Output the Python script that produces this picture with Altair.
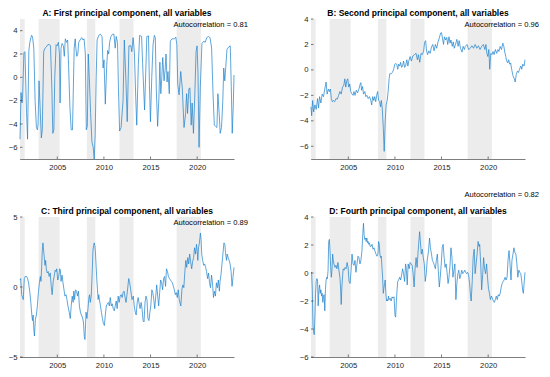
import altair as alt
import pandas as pd

# ---------------- data (decimal year, value) ----------------
pc1 = [(2001.00,-5.3),(2001.11,-1.3),(2001.21,-2.2),(2001.28,-1.6),(2001.42,2.1),(2001.53,2.2),(2001.70,-3.0),(2001.81,-5.3),
       (2001.95,2.3),(2002.06,3.0),(2002.23,3.6),(2002.34,3.5),(2002.48,2.5),(2002.62,-2.0),(2002.76,-4.3),(2002.87,-4.5),
       (2002.94,-4.0),(2003.04,-0.3),(2003.15,-2.5),(2003.29,-5.2),(2003.39,-4.5),(2003.54,2.2),(2003.68,2.5),(2003.82,2.6),
       (2003.99,2.8),(2004.17,2.8),(2004.27,2.7),(2004.42,-1.0),(2004.52,-4.8),(2004.63,-4.5),(2004.73,0.0),(2004.87,2.8),
       (2004.98,2.7),(2005.12,3.0),(2005.23,2.0),(2005.30,-2.2),(2005.40,2.5),(2005.51,2.9),(2005.65,2.7),(2005.75,1.8),
       (2005.86,3.3),(2006.00,3.0),(2006.11,3.2),(2006.21,1.0),(2006.35,-2.5),(2006.49,-4.5),(2006.63,-4.5),(2006.81,2.5),
       (2006.92,3.3),(2006.99,2.5),(2007.09,1.8),(2007.20,2.0),(2007.30,3.0),(2007.44,3.2),(2007.62,3.4),(2007.76,3.2),
       (2007.87,3.3),(2008.01,2.0),(2008.11,-4.5),(2008.22,-4.2),(2008.32,2.0),(2008.43,0.0),(2008.57,-3.0),(2008.71,-5.5),
       (2008.85,-6.0),(2008.96,-7.0),(2009.06,-5.0),(2009.17,0.0),(2009.27,3.2),(2009.45,3.6),(2009.63,3.7),(2009.80,3.5),
       (2009.91,0.8),(2010.01,1.5),(2010.15,-2.3),(2010.30,1.0),(2010.40,2.3),(2010.51,2.0),(2010.61,3.0),(2010.75,3.5),
       (2010.93,3.7),(2011.07,3.7),(2011.21,2.5),(2011.32,3.5),(2011.46,3.0),(2011.56,-1.0),(2011.68,-4.6),(2011.84,-4.3),
       (2012.05,-2.0),(2012.19,3.2),(2012.36,-0.3),(2012.50,-3.8),(2012.68,2.7),(2012.89,2.7),(2012.99,2.2),(2013.13,3.4),
       (2013.27,2.1),(2013.41,-1.7),(2013.52,-4.1),(2013.69,1.1),(2013.83,3.6),(2014.04,3.5),(2014.18,0.6),(2014.36,-2.8),
       (2014.50,0.8),(2014.60,3.5),(2014.78,3.55),(2014.88,-0.6),(2014.99,-3.8),(2015.13,0.0),(2015.27,2.8),(2015.41,3.6),
       (2015.51,3.4),(2015.62,-1.1),(2015.76,-4.2),(2015.90,-1.7),(2016.00,1.3),(2016.10,-1.4),(2016.21,0.0),(2016.31,1.7),
       (2016.45,-0.3),(2016.56,0.6),(2016.66,2.0),(2016.77,-0.4),(2016.87,0.5),(2017.01,-1.4),(2017.12,3.1),(2017.29,3.3),
       (2017.43,3.3),(2017.57,3.3),(2017.71,3.45),(2017.82,2.8),(2017.92,-0.6),(2018.06,-1.5),(2018.24,0.5),(2018.41,-1.0),
       (2018.59,-4.3),(2018.76,-3.1),(2018.87,-1.4),(2018.97,-3.1),(2019.11,-1.0),(2019.22,-0.9),(2019.36,-4.1),(2019.46,-2.2),
       (2019.60,-4.8),(2019.74,-1.7),(2019.88,2.2),(2019.99,2.7),(2020.09,0.3),(2020.20,-6.0),(2020.34,-0.8),(2020.51,2.9),
       (2020.72,3.1),(2020.86,3.0),(2021.03,3.4),(2021.21,3.5),(2021.38,3.4),(2021.55,2.5),(2021.70,-1.4),(2021.84,-4.1),
       (2021.98,-4.2),(2022.12,-4.3),(2022.22,-1.4),(2022.36,-3.1),(2022.47,-4.8),(2022.61,-4.3),(2022.75,-2.0),(2022.85,0.8),
       (2022.96,-0.3),(2023.06,0.8),(2023.20,2.4),(2023.38,2.6),(2023.55,2.7),(2023.66,-0.8),(2023.76,-4.8),(2023.87,-2.5),
       (2023.95,0.2)]

pc2 = [(2001.00,-2.9),(2001.07,-3.6),(2001.18,-2.4),(2001.28,-3.3),(2001.42,-2.75),(2001.56,-3.1),(2001.70,-2.25),(2001.81,-3.0),
       (2001.92,-2.1),(2002.06,-2.6),(2002.20,-1.9),(2002.34,-2.1),(2002.48,-1.5),(2002.62,-0.95),(2002.73,-1.9),(2002.87,-1.5),
       (2002.97,-1.7),(2003.08,-1.5),(2003.18,-2.25),(2003.29,-2.5),(2003.39,-2.4),(2003.54,-2.5),(2003.68,-2.25),(2003.82,-2.3),
       (2003.96,-2.0),(2004.10,-1.7),(2004.24,-1.9),(2004.38,-1.35),(2004.52,-1.2),(2004.63,-0.7),(2004.73,-1.35),(2004.84,-0.85),
       (2004.94,-0.7),(2005.05,-1.35),(2005.15,-1.1),(2005.26,-1.7),(2005.40,-1.9),(2005.51,-2.0),(2005.61,-1.7),(2005.72,-2.0),
       (2005.86,-1.6),(2006.00,-1.8),(2006.14,-1.5),(2006.28,-1.1),(2006.35,-1.0),(2006.42,-1.6),(2006.53,-1.3),(2006.63,-1.9),
       (2006.77,-1.7),(2006.88,-2.1),(2006.99,-2.0),(2007.13,-2.25),(2007.27,-2.1),(2007.41,-2.4),(2007.51,-2.75),(2007.62,-2.1),
       (2007.73,-2.4),(2007.83,-2.1),(2007.94,-2.5),(2008.04,-2.0),(2008.15,-1.7),(2008.25,-2.4),(2008.36,-2.5),(2008.46,-2.9),
       (2008.54,-2.4),(2008.64,-3.0),(2008.75,-4.5),(2008.85,-6.4),(2008.96,-4.0),(2009.06,-2.75),(2009.17,-2.4),(2009.27,-1.7),
       (2009.38,-0.7),(2009.45,-0.3),(2009.59,-0.3),(2009.73,-0.2),(2009.87,0.05),(2009.98,0.45),(2010.08,0.5),(2010.19,0.45),
       (2010.30,0.05),(2010.40,0.45),(2010.51,0.3),(2010.61,0.6),(2010.72,0.2),(2010.82,0.3),(2010.93,0.7),(2011.04,0.2),
       (2011.14,0.3),(2011.28,0.8),(2011.39,0.3),(2011.49,0.7),(2011.63,1.05),(2011.77,0.7),(2011.92,1.1),(2012.09,1.2),
       (2012.27,1.3),(2012.41,0.8),(2012.52,1.2),(2012.66,0.6),(2012.80,1.3),(2012.94,1.2),(2013.08,1.5),(2013.18,2.15),
       (2013.29,2.3),(2013.39,1.5),(2013.50,1.2),(2013.64,1.5),(2013.78,1.3),(2013.92,1.8),(2014.06,2.0),(2014.20,1.5),
       (2014.34,2.0),(2014.48,1.7),(2014.62,2.2),(2014.76,2.5),(2014.90,2.9),(2015.00,2.93),(2015.10,2.5),(2015.21,2.0),
       (2015.31,2.6),(2015.45,2.35),(2015.56,2.55),(2015.66,2.0),(2015.80,2.6),(2015.91,2.1),(2016.01,2.35),(2016.15,1.85),
       (2016.26,2.2),(2016.36,1.7),(2016.50,2.0),(2016.64,2.4),(2016.78,1.85),(2016.89,2.3),(2017.03,1.7),(2017.20,1.4),
       (2017.31,1.85),(2017.45,1.6),(2017.55,1.85),(2017.73,2.0),(2017.90,1.6),(2018.08,1.7),(2018.25,1.9),(2018.43,1.7),
       (2018.60,2.0),(2018.78,1.7),(2018.95,1.9),(2019.13,1.6),(2019.30,1.85),(2019.48,2.0),(2019.65,1.6),(2019.76,2.0),
       (2019.86,1.3),(2019.97,1.05),(2020.07,1.6),(2020.17,0.05),(2020.28,1.3),(2020.42,1.2),(2020.52,1.45),(2020.63,1.2),
       (2020.77,1.6),(2020.91,1.3),(2021.05,1.6),(2021.15,1.45),(2021.29,1.85),(2021.43,1.6),(2021.57,2.1),(2021.68,1.85),
       (2021.78,1.4),(2021.89,1.05),(2021.99,0.7),(2022.10,0.55),(2022.20,0.8),(2022.31,0.45),(2022.41,0.55),(2022.52,0.05),
       (2022.66,-0.45),(2022.80,-0.7),(2022.90,-0.95),(2023.01,-0.35),(2023.15,-0.1),(2023.25,-0.2),(2023.36,0.05),(2023.50,0.3),
       (2023.60,0.05),(2023.71,0.45),(2023.85,0.3),(2023.95,0.8)]

pc3 = [(2001.00,0.5),(2001.07,0.6),(2001.18,-0.55),(2001.35,-0.9),(2001.46,0.6),(2001.56,0.75),(2001.70,0.75),(2001.81,0.6),
       (2001.92,0.3),(2002.06,-0.4),(2002.16,-1.1),(2002.27,-2.0),(2002.34,-2.4),(2002.41,-2.0),(2002.48,-3.0),(2002.55,-3.5),
       (2002.65,-2.3),(2002.76,-2.0),(2002.87,-1.3),(2002.97,-0.4),(2003.08,0.3),(2003.18,0.75),(2003.25,0.4),(2003.32,1.4),
       (2003.39,2.6),(2003.46,3.15),(2003.57,2.35),(2003.68,1.55),(2003.75,1.9),(2003.82,1.3),(2003.92,1.0),(2004.03,1.1),
       (2004.13,0.75),(2004.24,1.0),(2004.35,0.05),(2004.45,-0.55),(2004.56,0.4),(2004.66,0.75),(2004.77,1.2),(2004.87,1.1),
       (2004.94,1.3),(2005.05,0.5),(2005.15,0.75),(2005.26,1.3),(2005.33,1.2),(2005.40,0.4),(2005.51,0.85),(2005.61,0.3),
       (2005.72,-0.2),(2005.82,-0.65),(2005.93,-0.55),(2006.04,-0.9),(2006.14,-1.35),(2006.28,-1.8),(2006.39,-2.25),(2006.49,-1.35),
       (2006.60,-0.65),(2006.70,-1.1),(2006.77,-0.3),(2006.85,-0.9),(2006.95,-0.2),(2007.06,-0.3),(2007.16,-0.65),(2007.27,-0.3),
       (2007.37,-1.35),(2007.48,-1.8),(2007.58,-2.0),(2007.69,-2.15),(2007.80,-2.5),(2007.90,-3.55),(2007.97,-3.75),(2008.08,-1.8),
       (2008.18,-2.25),(2008.29,-1.55),(2008.39,-0.75),(2008.46,-0.55),(2008.54,-1.1),(2008.64,-0.65),(2008.75,1.2),(2008.82,2.6),
       (2008.89,2.95),(2008.96,3.15),(2009.03,2.95),(2009.10,2.35),(2009.17,1.4),(2009.24,0.5),(2009.31,-0.2),(2009.38,-0.9),
       (2009.45,-0.55),(2009.52,-0.9),(2009.63,-1.35),(2009.73,-1.8),(2009.84,-2.25),(2009.94,-2.6),(2010.05,-2.75),(2010.15,-2.0),
       (2010.26,-1.35),(2010.37,-1.2),(2010.47,-1.1),(2010.58,-1.35),(2010.68,-0.75),(2010.79,-1.35),(2010.89,-1.2),(2011.00,-1.55),
       (2011.11,-1.7),(2011.21,-1.35),(2011.32,-1.0),(2011.42,-1.55),(2011.53,-0.65),(2011.63,-1.1),(2011.74,-0.65),(2011.85,-0.55),
       (2011.95,-0.75),(2012.06,-0.4),(2012.16,-0.3),(2012.27,-0.75),(2012.37,-1.1),(2012.48,-0.5),(2012.66,0.6),(2012.76,0.3),
       (2012.87,-0.2),(2013.01,-0.9),(2013.15,-0.65),(2013.25,-1.35),(2013.36,-1.8),(2013.46,-2.0),(2013.57,-1.1),(2013.67,-0.75),
       (2013.78,-1.2),(2013.88,-1.55),(2013.99,-1.1),(2014.09,-1.55),(2014.20,-2.4),(2014.30,-2.5),(2014.41,-1.1),(2014.51,-0.65),
       (2014.62,-0.9),(2014.72,-2.25),(2014.83,-2.4),(2014.93,-1.8),(2015.03,-1.35),(2015.14,-0.2),(2015.24,-0.4),(2015.35,-0.9),
       (2015.45,-1.55),(2015.56,-0.65),(2015.66,0.15),(2015.77,-0.65),(2015.87,-1.35),(2015.98,-0.4),(2016.08,0.5),(2016.19,0.3),
       (2016.29,-0.2),(2016.40,0.6),(2016.50,0.75),(2016.61,0.05),(2016.71,1.3),(2016.82,1.1),(2016.92,0.75),(2017.03,0.6),
       (2017.13,0.5),(2017.24,0.4),(2017.34,0.3),(2017.45,0.05),(2017.55,-0.2),(2017.66,-0.55),(2017.76,-0.4),(2017.87,-0.75),
       (2017.97,-0.2),(2018.08,-0.9),(2018.18,-1.2),(2018.25,-1.35),(2018.36,-0.2),(2018.46,0.15),(2018.57,-0.05),(2018.67,1.0),
       (2018.78,1.9),(2018.88,1.4),(2018.99,2.1),(2019.09,1.65),(2019.20,2.35),(2019.30,1.8),(2019.41,1.3),(2019.51,1.8),
       (2019.62,2.1),(2019.72,2.8),(2019.83,2.35),(2019.93,3.05),(2020.00,2.6),(2020.07,1.9),(2020.14,2.8),(2020.24,3.15),
       (2020.35,3.85),(2020.42,3.4),(2020.49,2.35),(2020.59,1.9),(2020.70,1.55),(2020.80,1.65),(2020.91,1.4),(2021.01,1.1),
       (2021.12,0.6),(2021.22,1.0),(2021.33,0.3),(2021.43,-0.05),(2021.54,0.85),(2021.64,0.3),(2021.75,-0.75),(2021.85,-0.3),
       (2021.96,-0.65),(2022.06,0.3),(2022.17,-0.05),(2022.27,0.5),(2022.38,-0.3),(2022.45,0.4),(2022.55,0.85),(2022.66,1.65),
       (2022.76,2.35),(2022.87,3.15),(2022.97,3.05),(2023.04,2.45),(2023.15,1.9),(2023.22,2.35),(2023.32,2.1),(2023.43,1.9),
       (2023.53,1.65),(2023.64,1.1),(2023.74,0.05),(2023.85,0.75),(2023.95,1.4)]

pc4 = [(2001.00,0.0),(2001.07,0.05),(2001.14,-1.2),(2001.21,-3.75),(2001.28,-4.2),(2001.35,-4.4),(2001.42,-3.05),(2001.49,-1.45),
       (2001.56,-0.6),(2001.63,-0.4),(2001.70,-0.5),(2001.77,-2.35),(2001.85,-1.2),(2001.92,-0.85),(2001.99,-1.45),(2002.06,-1.2),
       (2002.13,-1.65),(2002.20,-1.45),(2002.27,-2.1),(2002.34,-1.65),(2002.41,-1.55),(2002.48,-2.7),(2002.55,-1.2),(2002.62,-0.5),
       (2002.69,-0.3),(2002.76,-0.4),(2002.83,0.2),(2002.90,2.25),(2002.97,2.4),(2003.04,1.55),(2003.11,0.4),(2003.18,-0.3),
       (2003.25,0.2),(2003.32,1.35),(2003.39,0.9),(2003.46,0.65),(2003.57,0.4),(2003.68,0.55),(2003.78,0.3),(2003.89,0.75),
       (2003.99,0.2),(2004.10,-0.3),(2004.17,-1.0),(2004.24,-2.25),(2004.31,-1.0),(2004.38,-0.3),(2004.45,0.3),(2004.56,0.2),
       (2004.66,0.4),(2004.77,0.3),(2004.87,0.75),(2004.98,0.4),(2005.08,-0.6),(2005.19,-0.75),(2005.30,0.2),(2005.40,1.35),
       (2005.51,0.65),(2005.61,0.55),(2005.72,0.9),(2005.82,0.05),(2005.93,0.65),(2006.04,1.2),(2006.14,1.1),(2006.25,0.65),
       (2006.35,0.9),(2006.46,1.55),(2006.56,2.85),(2006.63,3.55),(2006.70,2.7),(2006.77,2.4),(2006.85,2.5),(2006.92,2.25),
       (2006.99,2.5),(2007.06,2.15),(2007.13,2.25),(2007.20,2.05),(2007.27,2.15),(2007.34,1.9),(2007.44,1.9),(2007.55,2.05),
       (2007.65,1.7),(2007.76,1.8),(2007.87,1.55),(2007.97,1.35),(2008.08,1.2),(2008.18,1.35),(2008.25,2.25),(2008.32,2.05),
       (2008.39,1.35),(2008.46,1.1),(2008.54,1.2),(2008.61,0.4),(2008.68,-0.3),(2008.75,-1.45),(2008.82,-1.1),(2008.89,-0.75),
       (2008.96,-0.5),(2009.03,-1.45),(2009.10,-2.0),(2009.17,-1.9),(2009.24,-2.0),(2009.31,-1.65),(2009.38,-1.9),(2009.49,-1.8),
       (2009.59,-2.0),(2009.70,-1.7),(2009.80,-1.8),(2009.91,-1.7),(2010.01,-3.05),(2010.08,-3.15),(2010.15,-2.1),(2010.23,-1.2),
       (2010.30,-0.6),(2010.40,-0.5),(2010.51,-0.3),(2010.61,-0.5),(2010.72,-0.15),(2010.82,0.3),(2010.93,-0.05),(2011.04,-0.6),
       (2011.14,0.65),(2011.21,0.4),(2011.32,-0.85),(2011.42,0.65),(2011.53,0.3),(2011.63,0.75),(2011.74,0.65),(2011.85,0.55),
       (2011.95,-0.05),(2012.06,-1.0),(2012.16,0.3),(2012.27,1.1),(2012.38,0.4),(2012.48,1.5),(2012.65,2.95),(2012.83,1.35),
       (2012.94,1.7),(2013.04,1.1),(2013.15,0.65),(2013.25,-0.6),(2013.36,-0.05),(2013.46,0.9),(2013.60,1.55),(2013.71,2.5),
       (2013.81,1.8),(2013.92,1.35),(2014.02,0.9),(2014.13,0.75),(2014.23,0.55),(2014.34,0.3),(2014.44,0.9),(2014.55,1.35),
       (2014.65,0.2),(2014.76,-1.0),(2014.86,-0.3),(2014.97,0.65),(2015.07,1.8),(2015.17,2.05),(2015.28,1.1),(2015.38,0.4),
       (2015.49,0.65),(2015.59,0.05),(2015.70,-0.75),(2015.80,-0.3),(2015.91,0.55),(2016.01,1.8),(2016.12,1.1),(2016.22,-0.3),
       (2016.33,0.2),(2016.43,0.65),(2016.54,-1.9),(2016.64,-0.75),(2016.75,-0.05),(2016.85,0.2),(2016.96,-0.4),(2017.06,-0.15),
       (2017.17,0.2),(2017.27,-0.05),(2017.38,0.05),(2017.48,0.2),(2017.59,0.05),(2017.69,-0.05),(2017.80,0.05),(2017.90,-0.15),
       (2018.01,-0.75),(2018.11,-1.65),(2018.18,-2.0),(2018.29,-0.6),(2018.39,1.1),(2018.50,1.7),(2018.60,-0.05),(2018.71,0.65),
       (2018.81,1.35),(2018.92,2.25),(2019.02,1.9),(2019.09,2.05),(2019.20,0.65),(2019.30,-1.2),(2019.41,-0.15),(2019.51,1.1),
       (2019.62,0.3),(2019.72,-0.05),(2019.83,0.65),(2019.93,-0.3),(2020.03,-1.1),(2020.14,-1.45),(2020.24,-1.9),(2020.35,-1.65),
       (2020.45,-1.8),(2020.56,-2.0),(2020.66,-2.1),(2020.77,-1.9),(2020.87,-1.65),(2020.98,-1.9),(2021.08,-1.55),(2021.19,-1.65),
       (2021.29,-1.45),(2021.40,-1.0),(2021.50,-0.75),(2021.61,-0.6),(2021.71,-0.5),(2021.82,-0.3),(2021.92,-0.5),(2022.03,-0.3),
       (2022.13,0.9),(2022.24,1.6),(2022.34,0.65),(2022.45,-0.5),(2022.55,0.9),(2022.66,1.35),(2022.76,1.8),(2022.87,1.45),
       (2022.97,1.35),(2023.08,0.65),(2023.18,-0.3),(2023.29,0.2),(2023.39,0.05),(2023.50,-0.05),(2023.60,-0.6),(2023.71,-1.3),
       (2023.78,-1.45),(2023.88,-0.5),(2023.95,0.05)]

shade_start = [2001.0, 2003.0, 2008.17, 2011.67, 2017.8]
shade_end = [2001.5, 2005.25, 2009.08, 2013.17, 2020.4]
x_ticks = [2005, 2010, 2015, 2020]

titles = ["A: First principal component, all variables",
          "B: Second principal component, all variables",
          "C: Third principal component, all variables",
          "D: Fourth principal component, all variables"]
autocorr = ["Autocorrelation = 0.81", "Autocorrelation = 0.96",
            "Autocorrelation = 0.89", "Autocorrelation = 0.82"]
y_domains = [[-7, 5], [-7, 4], [-5, 5], [-6, 4]]
y_ticks = [[-6, -4, -2, 0, 2, 4], [-6, -4, -2, 0, 2, 4], [-5, 0, 5], [-6, -4, -2, 0, 2, 4]]
series = [pc1, pc2, pc3, pc4]

FONT = "Liberation Sans"
AX = "#262626"
H = 140
W = 214
AC_Y = [6, 6, 6, -22]

shade_df = pd.DataFrame({"start": shade_start, "end": shade_end})


def panel(i):
    xs = alt.Scale(domain=[2001.0, 2023.95], nice=False, zero=False)
    ys = alt.Scale(domain=y_domains[i], nice=False, zero=False)
    xaxis = alt.Axis(values=x_ticks, format="d", ticks=False, grid=False, labelPadding=4)
    yaxis = alt.Axis(values=y_ticks[i], format="d", ticks=False, grid=False, labelPadding=3)
    df = pd.DataFrame(series[i], columns=["t", "v"])

    shade = alt.Chart(shade_df).mark_rect(color="#ececec").encode(
        x=alt.X("start:Q", scale=xs, axis=xaxis, title=None),
        x2="end:Q",
        y=alt.value(0), y2=alt.value(H))
    line = alt.Chart(df).mark_line(color="#1a80cc", strokeWidth=0.7).encode(
        x=alt.X("t:Q", scale=xs, axis=xaxis, title=None),
        y=alt.Y("v:Q", scale=ys, axis=yaxis, title=None))
    xt = alt.Chart(pd.DataFrame({"tick": x_ticks})).mark_rule(color=AX, strokeWidth=0.6).encode(
        x=alt.X("tick:Q", scale=xs, axis=xaxis, title=None),
        y=alt.value(H), y2=alt.value(H - 2.5))
    yt = alt.Chart(pd.DataFrame({"tick": y_ticks[i]})).mark_rule(color=AX, strokeWidth=0.6).encode(
        y=alt.Y("tick:Q", scale=ys, axis=yaxis, title=None),
        x=alt.value(0), x2=alt.value(2.5))
    ac = alt.Chart(pd.DataFrame({"s": [autocorr[i]]})).mark_text(
        align="right", baseline="middle", fontSize=7.6, font=FONT, color="black").encode(
        x=alt.value(W + 14), y=alt.value(AC_Y[i]), text="s:N")
    ttl = alt.Chart(pd.DataFrame({"s": [titles[i]]})).mark_text(
        align="center", baseline="middle", fontSize=8.5, fontWeight="bold", font=FONT,
        color="black").encode(
        x=alt.value(W / 2), y=alt.value(-6.5), text="s:N")
    return alt.layer(shade, line, xt, yt, ac, ttl).properties(width=W, height=H)


chart = alt.concat(
    panel(0), panel(1), panel(2), panel(3),
    columns=2, spacing={"row": 58, "column": 77}, bounds="flush"
).properties(
    padding=0
).configure_view(strokeWidth=0).configure_axis(
    labelFont=FONT, labelFontSize=7.7, labelColor=AX,
    domainColor=AX, domainWidth=0.6
)

chart.save("out.html", embed_options={"renderer": "svg", "actions": False})
